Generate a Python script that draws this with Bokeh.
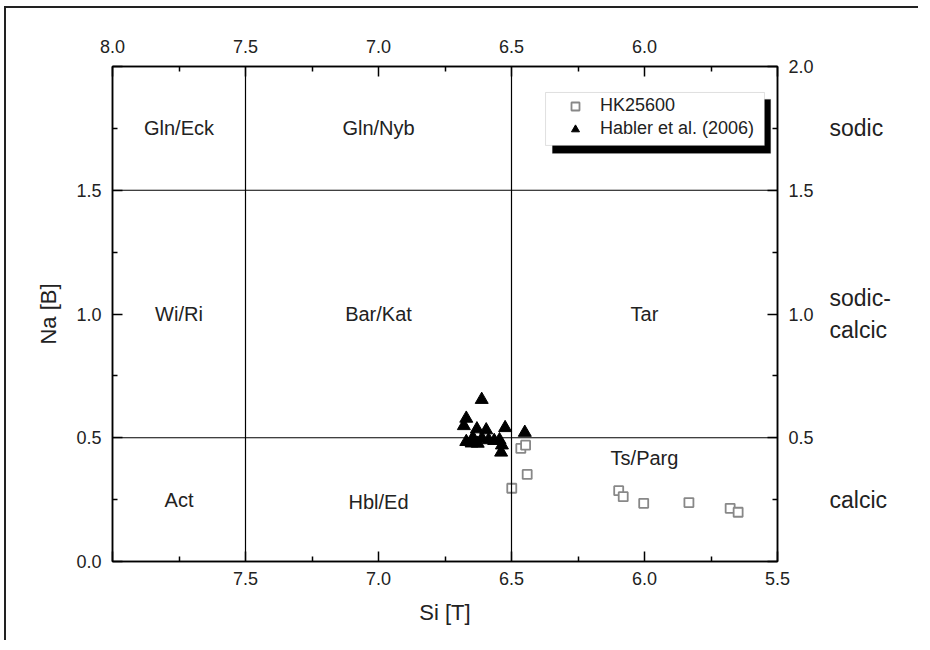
from bokeh.plotting import figure
from bokeh.models import (Range1d, LinearAxis, FixedTicker, Span,
                          BoxAnnotation, Legend, LegendItem, ColumnDataSource)
from bokeh.core.properties import value
from bokeh.embed import file_html
from bokeh.resources import INLINE

FONT = "Liberation Sans"

# ---- data ----
hk_si = [6.465, 6.447, 6.441, 6.499, 6.097, 6.080, 6.003, 5.833, 5.678, 5.648]
hk_na = [0.457, 0.470, 0.352, 0.296, 0.286, 0.262, 0.235, 0.238, 0.215, 0.199]

hab_si = [6.612, 6.670, 6.679, 6.630, 6.595, 6.524, 6.450, 6.670, 6.645,
          6.627, 6.611, 6.586, 6.545, 6.536, 6.539, 6.650, 6.565]
hab_na = [0.654, 0.578, 0.548, 0.535, 0.531, 0.540, 0.521, 0.484, 0.500,
          0.477, 0.497, 0.491, 0.491, 0.470, 0.441, 0.478, 0.488]

field_names = ["Gln/Eck", "Gln/Nyb", "Wi/Ri", "Bar/Kat", "Tar", "Act", "Hbl/Ed", "Ts/Parg"]
field_si = [7.75, 7.0, 7.75, 7.0, 6.0, 7.75, 7.0, 6.0]
field_na = [1.75, 1.75, 1.0, 1.0, 1.0, 0.25, 0.24, 0.42]

group_names = ["sodic", "sodic-\ncalcic", "calcic"]
group_na = [1.75, 1.0, 0.25]

si_bounds = [7.5, 6.5]
na_bounds = [1.5, 0.5]

x_ticks = [8.0, 7.5, 7.0, 6.5, 6.0, 5.5]
x_minor = [7.75, 7.25, 6.75, 6.25, 5.75]
y_ticks = [0.0, 0.5, 1.0, 1.5, 2.0]
y_minor = [0.25, 0.75, 1.25, 1.75]

p = figure(width=914, height=634, x_range=Range1d(8.0, 5.5), y_range=Range1d(0, 2),
           output_backend="svg", toolbar_location=None,
           min_border_left=106, min_border_right=143, min_border_top=58, min_border_bottom=81)
p.xgrid.visible = False
p.ygrid.visible = False
p.outline_line_color = "black"
p.outline_line_width = 1.5
p.background_fill_color = "white"
p.border_fill_color = "white"
p.styles = {"border-left": "2px solid #222", "border-top": "2px solid #222",
            "margin-left": "4px", "margin-top": "6px"}


def style_axis(ax, ticks, minor, hide):
    ax.ticker = FixedTicker(ticks=ticks, minor_ticks=minor)
    ax.major_label_overrides = {t: ("" if t == hide else f"{t:.1f}") for t in ticks}
    ax.major_tick_in = 10
    ax.major_tick_out = 0
    ax.minor_tick_in = 5
    ax.minor_tick_out = 0
    ax.axis_line_color = "black"
    ax.axis_line_width = 1.5
    ax.major_tick_line_width = 1.5
    ax.minor_tick_line_width = 1.5
    ax.major_label_text_font = FONT
    ax.major_label_text_font_size = "18px"
    ax.major_label_text_color = "#222222"
    ax.axis_label_text_font = FONT
    ax.axis_label_text_font_size = "22px"
    ax.axis_label_text_font_style = "normal"
    ax.axis_label_text_color = "#222222"


xb = p.xaxis[0]
style_axis(xb, x_ticks, x_minor, 8.0)
xb.axis_label = "Si [T]"
xb.major_label_standoff = 10
xb.axis_label_standoff = 12

yl = p.yaxis[0]
style_axis(yl, y_ticks, y_minor, 2.0)
yl.axis_label = "Na [B]"
yl.major_label_standoff = 11
yl.axis_label_standoff = 12

xt = LinearAxis()
style_axis(xt, x_ticks, x_minor, 5.5)
xt.major_label_standoff = 14
p.add_layout(xt, "above")

yr = LinearAxis()
style_axis(yr, y_ticks, y_minor, 0.0)
yr.major_label_standoff = 11
p.add_layout(yr, "right")

# outer axis carrying the group names (sodic / sodic-calcic / calcic)
yg = LinearAxis(ticker=FixedTicker(ticks=group_na, minor_ticks=[]),
                major_label_overrides={na: name for na, name in zip(group_na, group_names)})
yg.axis_line_color = None
yg.major_tick_line_color = None
yg.minor_tick_line_color = None
yg.major_tick_in = 0
yg.major_tick_out = 0
yg.major_label_standoff = 13
yg.major_label_text_font = FONT
yg.major_label_text_font_size = "23px"
yg.major_label_text_color = "#222222"
yg.major_label_text_align = "left"
p.add_layout(yg, "right")

for s in si_bounds:
    p.add_layout(Span(location=s, dimension="height", line_color="black", line_width=1.2))
for s in na_bounds:
    p.add_layout(Span(location=s, dimension="width", line_color="black", line_width=1.2))

fsrc = ColumnDataSource(dict(x=field_si, y=field_na, t=field_names))
p.text(x="x", y="y", text="t", source=fsrc, text_font=value(FONT), text_font_size="20px",
       text_align="center", text_baseline="middle", text_color="#222222")

r_sq = p.scatter(hk_si, hk_na, marker="square", size=9, fill_color="white",
                 line_color="#888888", line_width=1.8)
r_tri = p.scatter(hab_si, hab_na, marker="triangle", size=13, fill_color="black",
                  line_color="black")

# legend box with shadow
p.add_layout(BoxAnnotation(left=6.346, right=5.526, top=1.867, bottom=1.649,
                           fill_color="black", fill_alpha=1, line_color="black"))
p.add_layout(BoxAnnotation(left=6.372, right=5.549, top=1.895, bottom=1.681,
                           fill_color="white", fill_alpha=1, line_color="#999999", line_width=1))
legend = Legend(items=[LegendItem(label="HK25600", renderers=[r_sq]),
                       LegendItem(label="Habler et al. (2006)", renderers=[r_tri])],
                location=(453, 422), padding=0, margin=0, spacing=2,
                glyph_width=20, glyph_height=20, label_height=20, label_standoff=15,
                border_line_color=None, background_fill_alpha=0,
                label_text_font=FONT, label_text_font_size="18px", label_text_color="#222222")
p.add_layout(legend)

open("out.html", "w").write(file_html(p, INLINE))
